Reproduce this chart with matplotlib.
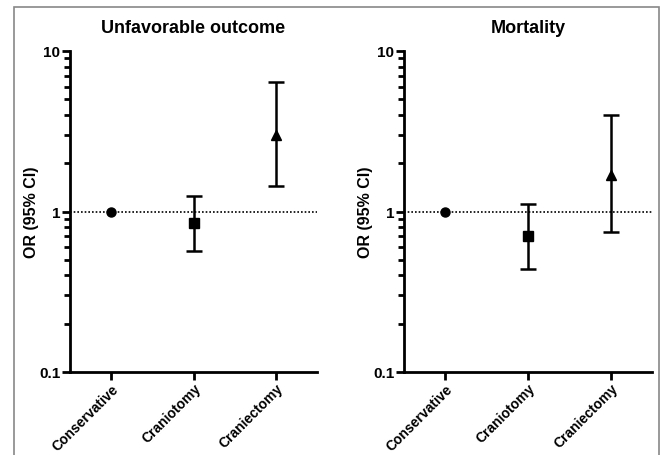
import matplotlib
matplotlib.use("Agg")
import matplotlib.pyplot as plt
from matplotlib.patches import Rectangle
from matplotlib.ticker import LogLocator, NullFormatter

plt.rcParams['font.family'] = ['Liberation Sans', 'DejaVu Sans']
plt.rcParams['font.weight'] = 'bold'

categories = ["Conservative", "Craniotomy", "Craniectomy"]
titles = ["Unfavorable outcome", "Mortality"]
or_unfav = [1.0, 0.85, 3.0]
lo_unfav = [1.0, 0.57, 1.45]
hi_unfav = [1.0, 1.25, 6.4]
or_mort = [1.0, 0.70, 1.70]
lo_mort = [1.0, 0.44, 0.75]
hi_mort = [1.0, 1.11, 4.0]
markers = ["o", "s", "^"]
y_ticks = [0.1, 1, 10]
y_ticklabels = ["0.1", "1", "10"]

W, H = 660, 456
fig = plt.figure(figsize=(6.6, 4.56), dpi=100)
fig.patches.append(Rectangle((14 / W, -0.05), (659 - 14) / W, 1.05 - 8 / H,
                             transform=fig.transFigure, fill=False,
                             edgecolor='#888888', linewidth=1.2))

axes_px = [(70, 317), (404, 652)]
top_px, bot_px = 52, 373
data = [(or_unfav, lo_unfav, hi_unfav), (or_mort, lo_mort, hi_mort)]

for (x0, x1), title, (vals, lo, hi) in zip(axes_px, titles, data):
    ax = fig.add_axes([x0 / W, 1 - bot_px / H, (x1 - x0) / W, (bot_px - top_px) / H])
    ax.set_yscale('log')
    ax.set_ylim(0.1, 10)
    ax.set_xlim(-0.5, 2.5)
    ax.axhline(1, color='black', linestyle=(0, (1, 1.2)), linewidth=1.2, zorder=1)
    for i, (v, l, h, m) in enumerate(zip(vals, lo, hi, markers)):
        if h != l:
            ax.errorbar([i], [v], yerr=[[v - l], [h - v]], fmt='none',
                        ecolor='black', elinewidth=1.8, capsize=6, capthick=1.8, zorder=3)
        ax.plot([i], [v], marker=m, color='black', markersize=6.5, linestyle='none', zorder=4)
    for s in ['top', 'right']:
        ax.spines[s].set_visible(False)
    for s in ['left', 'bottom']:
        ax.spines[s].set_linewidth(2)
    ax.set_yticks(y_ticks)
    ax.set_yticklabels(y_ticklabels, fontsize=11, fontweight='bold')
    ax.yaxis.set_minor_locator(LogLocator(base=10, subs=[2, 3, 4, 5, 6, 7, 8, 9]))
    ax.yaxis.set_minor_formatter(NullFormatter())
    ax.tick_params(axis='y', which='major', direction='out', length=6, width=2, pad=1)
    ax.tick_params(axis='y', which='minor', direction='out', length=4, width=2)
    ax.set_xticks(range(len(categories)))
    ax.set_xticklabels(categories, rotation=45, ha='right', rotation_mode='anchor',
                       fontsize=10, fontweight='bold')
    ax.tick_params(axis='x', direction='out', length=6, width=2, pad=0.5)
    ax.set_ylabel("OR (95% CI)", fontsize=11.5, fontweight='bold', labelpad=0)
    ax.set_title(title, fontsize=13, fontweight='bold', pad=14)

fig.savefig("out.png", dpi=100)
